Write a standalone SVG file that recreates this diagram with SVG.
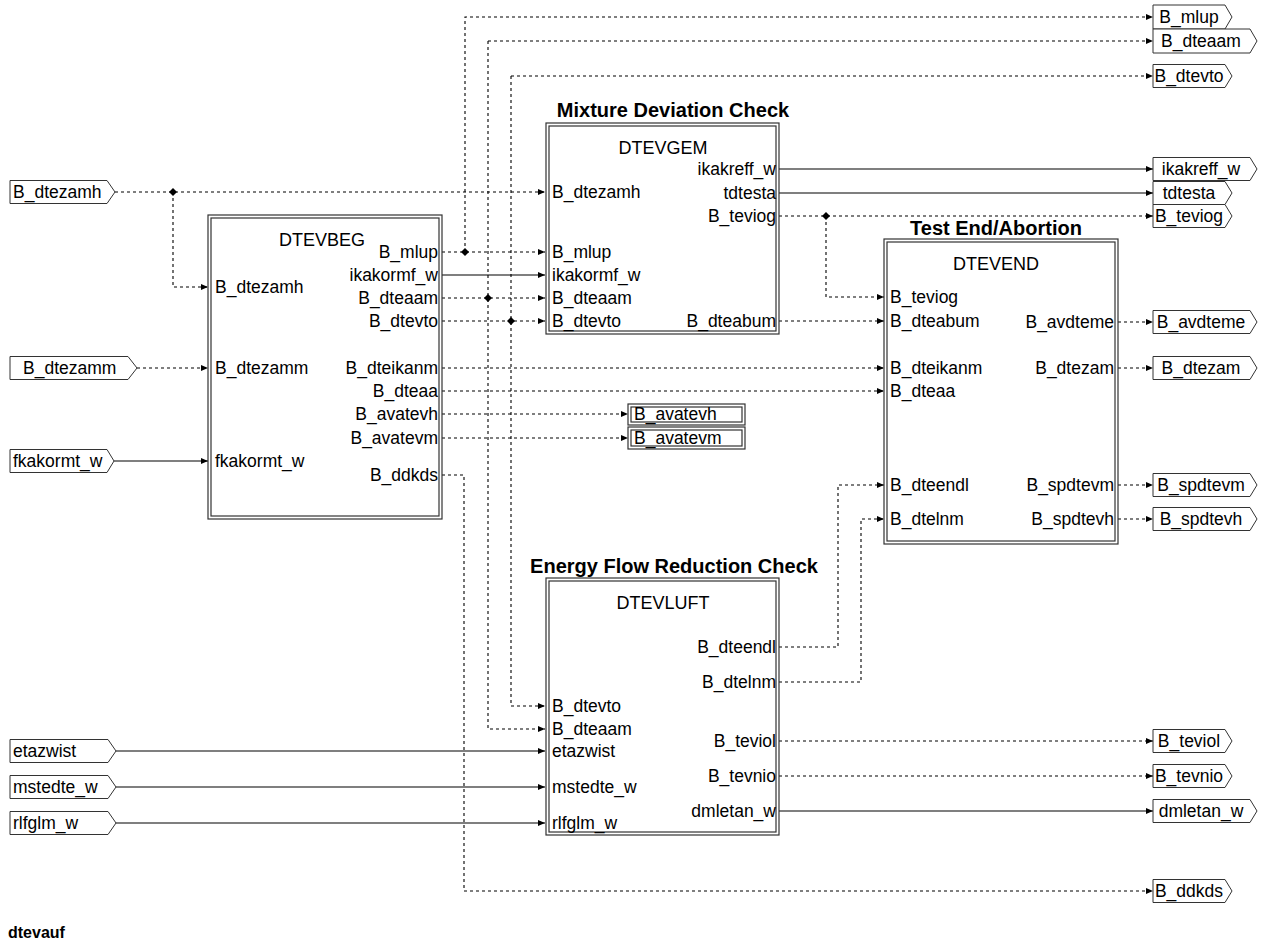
<svg xmlns="http://www.w3.org/2000/svg" width="1261" height="945" viewBox="0 0 1261 945">
<style>
text{font-family:"Liberation Sans",Arial,sans-serif;font-size:17.5px;fill:#000}
.t{font-weight:bold;font-size:20px}
.n{font-size:18px}
.e{text-anchor:end}
.m{text-anchor:middle}
.b{fill:#fff;stroke:#333;stroke-width:1.2}
.p{fill:#fff;stroke:#333;stroke-width:1}
.s{fill:none;stroke:#000;stroke-width:1.1}
.d{fill:none;stroke:#000;stroke-width:1.1;stroke-dasharray:3,3}
</style>
<defs>
<marker id="a" markerUnits="userSpaceOnUse" markerWidth="8" markerHeight="8" refX="7" refY="3" orient="auto"><path d="M0,0 L7,3 L0,6 z" fill="#000"/></marker>
<polygon id="j" points="0,-4 4,0 0,4 -4,0" fill="#000"/>
</defs>

<g id="connectors">
<path class="d" d="M115,192 H545" marker-end="url(#a)"/>
<path class="d" d="M173,192 V287 H208" marker-end="url(#a)"/>
<path class="d" d="M137,368 H208" marker-end="url(#a)"/>
<path class="s" d="M114,461 H208" marker-end="url(#a)"/>
<path class="d" d="M442,252 H545" marker-end="url(#a)"/>
<path class="d" d="M465,252 V17 H1153" marker-end="url(#a)"/>
<path class="s" d="M442,275 H545" marker-end="url(#a)"/>
<path class="d" d="M442,298 H545" marker-end="url(#a)"/>
<path class="d" d="M488,41 H1153" marker-end="url(#a)"/>
<path class="d" d="M488,41 V729 H545" marker-end="url(#a)"/>
<path class="d" d="M442,321 H545" marker-end="url(#a)"/>
<path class="d" d="M511,76 H1153" marker-end="url(#a)"/>
<path class="d" d="M511,76 V706 H545" marker-end="url(#a)"/>
<path class="d" d="M442,368 H884" marker-end="url(#a)"/>
<path class="d" d="M442,391 H884" marker-end="url(#a)"/>
<path class="d" d="M442,414 H628" marker-end="url(#a)"/>
<path class="d" d="M442,438 H628" marker-end="url(#a)"/>
<path class="d" d="M442,475 H464 V891 H1153" marker-end="url(#a)"/>
<path class="s" d="M779,169 H1153" marker-end="url(#a)"/>
<path class="s" d="M779,193 H1153" marker-end="url(#a)"/>
<path class="d" d="M779,216 H1153" marker-end="url(#a)"/>
<path class="d" d="M826,216 V297 H884" marker-end="url(#a)"/>
<path class="d" d="M779,321 H884" marker-end="url(#a)"/>
<path class="d" d="M1118,322 H1153" marker-end="url(#a)"/>
<path class="d" d="M1118,368 H1153" marker-end="url(#a)"/>
<path class="d" d="M1118,485 H1153" marker-end="url(#a)"/>
<path class="d" d="M1118,519 H1153" marker-end="url(#a)"/>
<path class="d" d="M779,647 H838 V485 H884" marker-end="url(#a)"/>
<path class="d" d="M779,682 H861 V519 H884" marker-end="url(#a)"/>
<path class="d" d="M779,741 H1153" marker-end="url(#a)"/>
<path class="d" d="M779,776 H1153" marker-end="url(#a)"/>
<path class="s" d="M779,811 H1153" marker-end="url(#a)"/>
<path class="s" d="M116,751 H545" marker-end="url(#a)"/>
<path class="s" d="M116,787 H545" marker-end="url(#a)"/>
<path class="s" d="M116,823 H545" marker-end="url(#a)"/>
<use href="#j" x="173" y="192"/>
<use href="#j" x="465" y="252"/>
<use href="#j" x="488" y="298"/>
<use href="#j" x="511" y="321"/>
<use href="#j" x="826" y="216"/>
</g>

<g id="DTEVBEG">
<rect class="b" x="208" y="215" width="234" height="304"/>
<rect class="b" x="211" y="218" width="228" height="298"/>
<text class="m n" x="322" y="246">DTEVBEG</text>
<text x="215" y="293">B_dtezamh</text>
<text x="215" y="374">B_dtezamm</text>
<text x="215" y="467">fkakormt_w</text>
<text class="e" x="438" y="258">B_mlup</text>
<text class="e" x="438" y="281">ikakormf_w</text>
<text class="e" x="438" y="304">B_dteaam</text>
<text class="e" x="438" y="327">B_dtevto</text>
<text class="e" x="438" y="374">B_dteikanm</text>
<text class="e" x="438" y="397">B_dteaa</text>
<text class="e" x="438" y="420">B_avatevh</text>
<text class="e" x="438" y="444">B_avatevm</text>
<text class="e" x="438" y="481">B_ddkds</text>
</g>

<g id="DTEVGEM">
<text class="t m" x="673" y="117">Mixture Deviation Check</text>
<rect class="b" x="546" y="123" width="233" height="211"/>
<rect class="b" x="549" y="126" width="227" height="205"/>
<text class="m n" x="663" y="154">DTEVGEM</text>
<text x="552" y="198">B_dtezamh</text>
<text x="552" y="258">B_mlup</text>
<text x="552" y="281">ikakormf_w</text>
<text x="552" y="304">B_dteaam</text>
<text x="552" y="327">B_dtevto</text>
<text class="e" x="776" y="175">ikakreff_w</text>
<text class="e" x="776" y="199">tdtesta</text>
<text class="e" x="776" y="222">B_teviog</text>
<text class="e" x="776" y="327">B_dteabum</text>
</g>

<g id="DTEVEND">
<text class="t m" x="996" y="235">Test End/Abortion</text>
<rect class="b" x="884" y="239" width="234" height="305"/>
<rect class="b" x="887" y="242" width="228" height="299"/>
<text class="m n" x="996" y="270">DTEVEND</text>
<text x="890" y="303">B_teviog</text>
<text x="890" y="327">B_dteabum</text>
<text x="890" y="374">B_dteikanm</text>
<text x="890" y="397">B_dteaa</text>
<text x="890" y="491">B_dteendl</text>
<text x="890" y="525">B_dtelnm</text>
<text class="e" x="1114" y="328">B_avdteme</text>
<text class="e" x="1114" y="374">B_dtezam</text>
<text class="e" x="1114" y="491">B_spdtevm</text>
<text class="e" x="1114" y="525">B_spdtevh</text>
</g>

<g id="DTEVLUFT">
<text class="t m" x="674" y="573">Energy Flow Reduction Check</text>
<rect class="b" x="546" y="578" width="233" height="257"/>
<rect class="b" x="549" y="581" width="227" height="251"/>
<text class="m n" x="663" y="609">DTEVLUFT</text>
<text x="552" y="712">B_dtevto</text>
<text x="552" y="735">B_dteaam</text>
<text x="552" y="757">etazwist</text>
<text x="552" y="793">mstedte_w</text>
<text x="552" y="829">rlfglm_w</text>
<text class="e" x="776" y="653">B_dteendl</text>
<text class="e" x="776" y="688">B_dtelnm</text>
<text class="e" x="776" y="747">B_teviol</text>
<text class="e" x="776" y="782">B_tevnio</text>
<text class="e" x="776" y="817">dmletan_w</text>
</g>

<g id="B_avatevh_out">
<rect class="b" x="628" y="404" width="117" height="21"/>
<rect class="b" x="631" y="407" width="111" height="15"/>
<text x="634" y="420">B_avatevh</text>
</g>
<g id="B_avatevm_out">
<rect class="b" x="628" y="427" width="117" height="22"/>
<rect class="b" x="631" y="430" width="111" height="16"/>
<text x="634" y="444">B_avatevm</text>
</g>

<g id="in_B_dtezamh"><path class="p" d="M10,180.5 H107 L115,192 L107,203.5 H10 Z"/><text x="13" y="198">B_dtezamh</text></g>
<g id="in_B_dtezamm"><path class="p" d="M10,356.5 H128 L137,368 L128,379.5 H10 Z"/><text x="23" y="374">B_dtezamm</text></g>
<g id="in_fkakormt_w"><path class="p" d="M10,449.5 H107 L114,461 L107,472.5 H10 Z"/><text x="13" y="467">fkakormt_w</text></g>
<g id="in_etazwist"><path class="p" d="M10,739.5 H108 L116,751 L108,762.5 H10 Z"/><text x="13" y="757">etazwist</text></g>
<g id="in_mstedte_w"><path class="p" d="M10,775.5 H108 L116,787 L108,798.5 H10 Z"/><text x="13" y="793">mstedte_w</text></g>
<g id="in_rlfglm_w"><path class="p" d="M10,811.5 H108 L116,823 L108,834.5 H10 Z"/><text x="13" y="829">rlfglm_w</text></g>

<g id="out_B_mlup"><path class="p" d="M1153,5 H1225 L1232,17 L1225,29 H1153 Z"/><text class="m" x="1189" y="23">B_mlup</text></g>
<g id="out_B_dteaam"><path class="p" d="M1153,29 H1250 L1257,41 L1250,53 H1153 Z"/><text class="m" x="1201" y="47">B_dteaam</text></g>
<g id="out_B_dtevto"><path class="p" d="M1153,64.5 H1225 L1232,76 L1225,87.5 H1153 Z"/><text class="m" x="1189" y="82">B_dtevto</text></g>
<g id="out_ikakreff_w"><path class="p" d="M1153,157.5 H1250 L1257,169 L1250,180.5 H1153 Z"/><text class="m" x="1201" y="175">ikakreff_w</text></g>
<g id="out_tdtesta"><path class="p" d="M1153,181.5 H1225 L1232,193 L1225,204.5 H1153 Z"/><text class="m" x="1189" y="199">tdtesta</text></g>
<g id="out_B_teviog"><path class="p" d="M1153,204.5 H1225 L1232,216 L1225,227.5 H1153 Z"/><text class="m" x="1189" y="222">B_teviog</text></g>
<g id="out_B_avdteme"><path class="p" d="M1153,310.5 H1250 L1257,322 L1250,333.5 H1153 Z"/><text class="m" x="1201" y="328">B_avdteme</text></g>
<g id="out_B_dtezam"><path class="p" d="M1153,356.5 H1250 L1257,368 L1250,379.5 H1153 Z"/><text class="m" x="1201" y="374">B_dtezam</text></g>
<g id="out_B_spdtevm"><path class="p" d="M1153,473.5 H1250 L1257,485 L1250,496.5 H1153 Z"/><text class="m" x="1201" y="491">B_spdtevm</text></g>
<g id="out_B_spdtevh"><path class="p" d="M1153,507.5 H1250 L1257,519 L1250,530.5 H1153 Z"/><text class="m" x="1201" y="525">B_spdtevh</text></g>
<g id="out_B_teviol"><path class="p" d="M1153,729.5 H1225 L1232,741 L1225,752.5 H1153 Z"/><text class="m" x="1189" y="747">B_teviol</text></g>
<g id="out_B_tevnio"><path class="p" d="M1153,764.5 H1225 L1232,776 L1225,787.5 H1153 Z"/><text class="m" x="1189" y="782">B_tevnio</text></g>
<g id="out_dmletan_w"><path class="p" d="M1153,799.5 H1250 L1257,811 L1250,822.5 H1153 Z"/><text class="m" x="1201" y="817">dmletan_w</text></g>
<g id="out_B_ddkds"><path class="p" d="M1153,879.5 H1225 L1232,891 L1225,902.5 H1153 Z"/><text class="m" x="1189" y="897">B_ddkds</text></g>

<text x="8" y="938" style="font-weight:bold;font-size:16px">dtevauf</text>
</svg>
